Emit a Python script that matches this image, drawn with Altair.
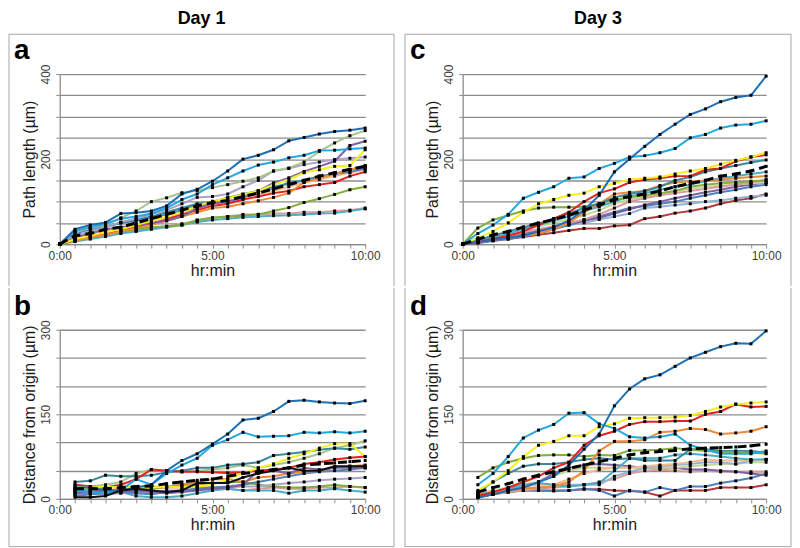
import altair as alt
import pandas as pd

# ---------------- data ----------------
hours_full = [0, 0.5, 1, 1.5, 2, 2.5, 3, 3.5, 4, 4.5, 5, 5.5, 6, 6.5, 7, 7.5, 8, 8.5, 9, 9.5, 10]
hours_late = [0.5, 1, 1.5, 2, 2.5, 3, 3.5, 4, 4.5, 5, 5.5, 6, 6.5, 7, 7.5, 8, 8.5, 9, 9.5, 10]
x_label_hours = [0, 5, 10]

path_ticks = [0, 50, 100, 150, 200, 250, 300, 350, 400]
path_labels = [0, 200, 400]
dist_ticks = [0, 50, 100, 150, 200, 250, 300]
dist_labels = [0, 150, 300]

day_titles = ["Day 1", "Day 3"]
panel_letters = ["a", "b", "c", "d"]
y_titles = ["Path length (µm)", "Distance from origin (µm)"]
x_title = "hr:min"

# colours
DARKBLUE = "#1f6fb4"
LIGHTBLUE = "#22a9e1"
SAGE = "#a9c48e"
PURPLE = "#7f62a2"
LAVENDER = "#aba3cc"
YELLOW = "#f5f01e"
RED = "#e3211f"
ORANGE = "#ef8a36"
OLIVE = "#85ad3c"
SALMON = "#dc9a98"
LTEAL = "#4bacc6"
TEAL = "#3a8a9c"
BLUE = "#4f81bd"
LORANGE = "#f7b987"
BLUEGRAY = "#95b3d7"
MAROON = "#b53a3a"
GRAYGREEN = "#c3d69b"
BLACK = "#111111"

# Panel a : Day 1 path length (0:00 .. 10:00)
a_darkblue = [0, 35, 45, 51, 72, 74, 78, 90, 118, 129, 148, 172, 200, 209, 222, 243, 251, 259, 265, 268, 273]
a_lightblue = [0, 30, 40, 48, 60, 65, 72, 85, 105, 118, 140, 156, 172, 186, 193, 203, 209, 220, 221, 224, 226]
a_sage = [0, 28, 38, 45, 62, 78, 100, 109, 121, 126, 133, 140, 148, 156, 172, 179, 193, 218, 238, 255, 267]
a_purple = [0, 15, 25, 35, 40, 45, 50, 55, 65, 85, 95, 100, 109, 125, 144, 156, 171, 183, 195, 232, 242]
a_lavender = [0, 20, 30, 40, 52, 60, 70, 80, 95, 110, 112, 118, 135, 150, 172, 178, 187, 193, 199, 202, 205]
a_yellow = [0, 12, 20, 28, 35, 45, 55, 65, 75, 90, 101, 108, 117, 125, 140, 152, 168, 175, 183, 185, 222]
a_orange = [0, 8, 15, 22, 30, 38, 45, 55, 65, 75, 85, 88, 95, 102, 110, 120, 145, 155, 165, 175, 185]
a_red = [0, 10, 18, 25, 32, 40, 48, 58, 70, 80, 90, 95, 105, 112, 120, 125, 135, 140, 145, 160, 170]
a_olive = [0, 10, 18, 25, 30, 35, 40, 42, 45, 57, 62, 65, 67, 70, 78, 86, 98, 107, 117, 128, 135]
a_salmon = [0, 8, 15, 22, 28, 32, 38, 42, 48, 55, 62, 65, 70, 70, 72, 72, 75, 75, 78, 80, 85]
a_lteal = [0, 6, 12, 18, 25, 30, 35, 40, 45, 52, 57, 60, 63, 65, 67, 68, 70, 72, 73, 78, 83]
a_teal = [0, 30, 38, 42, 50, 58, 65, 75, 85, 95, 100, 108, 118, 125, 135, 142, 150, 158, 165, 175, 183]
a_blue = [0, 25, 35, 40, 50, 55, 62, 70, 80, 92, 98, 110, 115, 125, 130, 145, 150, 160, 165, 170, 178]
a_lorange = [0, 15, 22, 30, 38, 45, 55, 62, 75, 85, 95, 102, 110, 118, 125, 135, 145, 152, 160, 168, 175]
a_mean = [0, 20, 25, 35, 40, 50, 60, 70, 80, 90, 98, 103, 112, 120, 130, 140, 150, 160, 168, 176, 183]

# Panel c : Day 3 path length (0:00 .. 10:00)
c_darkblue = [0, 5, 10, 15, 20, 30, 40, 55, 80, 115, 170, 200, 230, 258, 282, 305, 318, 335, 345, 350, 395]
c_lightblue = [0, 25, 45, 70, 108, 122, 135, 155, 158, 178, 190, 205, 208, 215, 225, 250, 258, 273, 280, 282, 290]
c_yellow = [0, 15, 30, 50, 75, 95, 105, 115, 120, 135, 143, 152, 155, 158, 165, 172, 178, 188, 197, 205, 215]
c_red = [0, 5, 12, 20, 30, 45, 60, 75, 100, 120, 130, 145, 152, 155, 160, 160, 175, 178, 195, 205, 210]
c_olive = [0, 38, 57, 68, 78, 85, 87, 87, 88, 95, 105, 110, 115, 120, 125, 135, 140, 143, 145, 148, 150]
c_teal = [0, 10, 20, 30, 40, 48, 60, 72, 85, 95, 110, 118, 125, 135, 150, 158, 170, 178, 185, 192, 198]
c_orange = [0, 5, 10, 15, 20, 25, 35, 50, 75, 95, 118, 122, 125, 138, 145, 148, 150, 152, 155, 158, 160]
c_blue = [0, 3, 8, 12, 18, 25, 35, 45, 55, 65, 75, 85, 90, 95, 100, 108, 115, 122, 128, 135, 140]
c_bluegray = [0, 5, 10, 15, 22, 30, 38, 45, 50, 58, 65, 72, 85, 88, 92, 95, 100, 103, 108, 112, 115]
c_maroon = [0, 3, 8, 12, 17, 22, 27, 32, 37, 37, 43, 45, 60, 65, 73, 78, 85, 95, 103, 108, 118]
c_graygreen = [0, 10, 18, 28, 35, 42, 50, 58, 68, 80, 95, 105, 112, 118, 125, 130, 135, 138, 140, 143, 145]
c_lteal = [0, 8, 15, 25, 35, 45, 55, 65, 78, 88, 100, 112, 120, 128, 135, 140, 148, 155, 160, 165, 170]
c_salmon = [0, 5, 12, 20, 28, 35, 42, 50, 58, 70, 85, 100, 108, 115, 120, 125, 130, 135, 140, 145, 152]
c_purple = [0, 4, 10, 16, 25, 32, 40, 48, 55, 62, 72, 82, 92, 100, 108, 115, 122, 128, 135, 140, 145]
c_mean = [0, 12, 22, 30, 40, 50, 58, 68, 80, 92, 105, 112, 118, 125, 135, 143, 150, 160, 165, 172, 183]

# Panel b : Day 1 distance from origin (0:30 .. 10:00)
b_darkblue = [20, 20, 15, 15, 20, 25, 50, 68, 80, 97, 115, 140, 143, 155, 173, 175, 172, 170, 169, 174]
b_lightblue = [15, 12, 10, 15, 35, 25, 45, 60, 72, 95, 105, 118, 110, 111, 112, 118, 117, 119, 117, 120]
b_teal = [30, 32, 42, 40, 40, 42, 47, 50, 55, 55, 60, 62, 65, 77, 80, 83, 87, 90, 88, 92]
b_sage = [25, 22, 25, 30, 45, 52, 50, 48, 50, 52, 55, 60, 55, 60, 65, 72, 80, 90, 95, 103]
b_yellow = [20, 20, 22, 20, 22, 20, 22, 20, 22, 25, 35, 45, 55, 62, 72, 80, 90, 98, 98, 75]
b_red = [25, 22, 20, 25, 35, 52, 50, 48, 48, 47, 46, 47, 50, 52, 55, 62, 65, 70, 73, 75]
b_black = [3, 3, 5, 15, 18, 15, 12, 15, 28, 28, 28, 38, 45, 50, 55, 50, 50, 58, 58, 58]
b_purple = [10, 12, 15, 12, 15, 12, 10, 12, 15, 18, 20, 25, 50, 50, 45, 55, 52, 55, 55, 55]
b_lavender = [8, 10, 8, 10, 12, 12, 15, 15, 18, 20, 20, 22, 22, 25, 28, 30, 33, 35, 36, 38]
b_lteal = [12, 15, 10, 12, 5, 3, 3, 5, 10, 15, 18, 15, 15, 15, 10, 15, 15, 18, 15, 12]
b_olive = [15, 18, 20, 22, 20, 18, 22, 25, 25, 28, 30, 30, 25, 22, 20, 20, 22, 25, 22, 20]
b_salmon = [18, 15, 12, 15, 15, 18, 20, 20, 22, 20, 18, 15, 18, 20, 18, 18, 20, 20, 22, 20]
b_orange = [10, 12, 15, 18, 20, 22, 20, 25, 30, 35, 35, 30, 38, 40, 45, 48, 50, 55, 58, 60]
b_blue = [5, 8, 10, 12, 10, 8, 12, 15, 18, 20, 22, 25, 30, 35, 40, 45, 48, 50, 52, 55]
b_mean = [18, 18, 18, 20, 22, 23, 27, 30, 33, 35, 40, 45, 48, 52, 55, 60, 62, 64, 66, 68]

# Panel d : Day 3 distance from origin (0:30 .. 10:00)
d_darkblue = [3, 8, 15, 20, 30, 40, 60, 88, 115, 165, 195, 213, 220, 235, 250, 260, 270, 276, 275, 298]
d_lightblue = [25, 45, 75, 108, 122, 132, 152, 153, 133, 125, 110, 108, 110, 115, 95, 88, 80, 80, 80, 85]
d_yellow = [15, 30, 50, 75, 95, 102, 112, 112, 128, 133, 143, 144, 144, 145, 148, 155, 163, 168, 170, 172]
d_red = [5, 12, 20, 30, 40, 55, 65, 95, 112, 120, 132, 137, 137, 138, 138, 150, 155, 168, 163, 164]
d_orange = [5, 10, 15, 18, 20, 22, 30, 50, 85, 102, 102, 105, 118, 120, 125, 123, 115, 117, 120, 128]
d_olive = [38, 55, 65, 72, 77, 78, 78, 75, 78, 77, 86, 86, 87, 90, 87, 85, 83, 83, 82, 80]
d_teal = [12, 30, 45, 58, 62, 62, 65, 70, 72, 70, 72, 68, 68, 68, 88, 88, 85, 85, 85, 82]
d_purple = [3, 8, 15, 20, 30, 45, 55, 60, 62, 60, 58, 55, 55, 55, 52, 52, 50, 48, 45, 42]
d_blue = [5, 10, 12, 15, 15, 15, 15, 18, 15, 5, 15, 12, 20, 15, 22, 22, 28, 32, 37, 45]
d_maroon = [2, 8, 12, 15, 15, 14, 15, 17, 17, 15, 14, 12, 5, 15, 15, 15, 20, 20, 20, 25]
d_lorange = [8, 12, 18, 22, 25, 25, 35, 45, 52, 55, 55, 58, 60, 62, 65, 70, 68, 68, 68, 70]
d_graygreen = [10, 15, 20, 25, 30, 40, 50, 55, 55, 55, 55, 55, 55, 55, 58, 60, 62, 62, 65, 65]
d_bluegray = [6, 10, 15, 18, 20, 22, 25, 25, 25, 40, 48, 55, 58, 60, 62, 65, 65, 62, 68, 70]
d_salmon = [4, 8, 12, 15, 18, 20, 22, 25, 30, 35, 45, 50, 52, 50, 48, 50, 48, 48, 48, 48]
d_lteal = [8, 12, 18, 25, 28, 25, 22, 25, 28, 50, 72, 72, 72, 78, 80, 78, 75, 72, 70, 70]
d_mean = [12, 20, 27, 35, 42, 48, 54, 60, 66, 72, 78, 82, 84, 86, 89, 90, 91, 92, 94, 97]

panel_a_series = [
    ("salmon", SALMON, a_salmon), ("lteal", LTEAL, a_lteal), ("olive", OLIVE, a_olive),
    ("lorange", LORANGE, a_lorange), ("blue", BLUE, a_blue), ("teal", TEAL, a_teal),
    ("red", RED, a_red), ("orange", ORANGE, a_orange), ("lavender", LAVENDER, a_lavender),
    ("purple", PURPLE, a_purple), ("yellow", YELLOW, a_yellow), ("sage", SAGE, a_sage),
    ("lightblue", LIGHTBLUE, a_lightblue), ("darkblue", DARKBLUE, a_darkblue),
]
panel_c_series = [
    ("maroon", MAROON, c_maroon), ("bluegray", BLUEGRAY, c_bluegray), ("blue", BLUE, c_blue),
    ("purple", PURPLE, c_purple), ("graygreen", GRAYGREEN, c_graygreen), ("salmon", SALMON, c_salmon),
    ("lteal", LTEAL, c_lteal), ("orange", ORANGE, c_orange), ("olive", OLIVE, c_olive),
    ("teal", TEAL, c_teal), ("red", RED, c_red), ("yellow", YELLOW, c_yellow),
    ("lightblue", LIGHTBLUE, c_lightblue), ("darkblue", DARKBLUE, c_darkblue),
]
panel_b_series = [
    ("salmon", SALMON, b_salmon), ("olive", OLIVE, b_olive), ("lteal", LTEAL, b_lteal),
    ("lavender", LAVENDER, b_lavender), ("blue", BLUE, b_blue), ("orange", ORANGE, b_orange),
    ("purple", PURPLE, b_purple), ("sage", SAGE, b_sage), ("teal", TEAL, b_teal),
    ("red", RED, b_red), ("yellow", YELLOW, b_yellow), ("lightblue", LIGHTBLUE, b_lightblue),
    ("darkblue", DARKBLUE, b_darkblue), ("black", BLACK, b_black),
]
panel_d_series = [
    ("maroon", MAROON, d_maroon), ("blue", BLUE, d_blue), ("salmon", SALMON, d_salmon),
    ("purple", PURPLE, d_purple), ("graygreen", GRAYGREEN, d_graygreen), ("bluegray", BLUEGRAY, d_bluegray),
    ("lorange", LORANGE, d_lorange), ("lteal", LTEAL, d_lteal), ("teal", TEAL, d_teal),
    ("olive", OLIVE, d_olive), ("orange", ORANGE, d_orange), ("red", RED, d_red),
    ("yellow", YELLOW, d_yellow), ("lightblue", LIGHTBLUE, d_lightblue), ("darkblue", DARKBLUE, d_darkblue),
]

# ---------------- style ----------------
FONT = "Liberation Sans"
GRID = "#8c8c8c"
BOX = "#a6a6a6"


def long_df(times, series):
    rows = []
    for k, (name, color, vals) in enumerate(series):
        for t, v in zip(times, vals):
            rows.append({"t": t, "v": v, "series": name, "color": color, "k": k})
    return pd.DataFrame(rows)


def one(**kw):
    return pd.DataFrame([kw])


def panel(series, mean, times, ymax, yticks, ylabels, ytitle, letter, width, height,
          bl, br, part, day=None):
    df = long_df(times, series)
    mdf = pd.DataFrame({"t": times, "v": mean})
    xlab = "[" + ",".join(str(h) for h in x_label_hours) + "]"
    ylab = "[" + ",".join(str(h) for h in ylabels) + "]"
    X = alt.X("t:Q", scale=alt.Scale(domain=[0, 10], nice=False, zero=False),
              axis=alt.Axis(values=hours_full, title=x_title, grid=False,
                            labelExpr=f"indexof({xlab}, datum.value) >= 0 ? format(datum.value, 'd') + ':00' : ''",
                            labelOverlap=False, labelFlush=False, tickSize=4, labelPadding=2,
                            titlePadding=1))
    Y = alt.Y("v:Q", scale=alt.Scale(domain=[0, ymax], nice=False),
              axis=alt.Axis(values=yticks, title=ytitle, grid=True,
                            labelExpr=f"indexof({ylab}, datum.value) >= 0 ? datum.label : ''",
                            labelOverlap=False, labelFlush=False, labelAngle=270,
                            labelAlign="center", labelBaseline="bottom", tickSize=4,
                            labelPadding=3, titlePadding=2))
    lines = alt.Chart(df).mark_line(strokeWidth=2, strokeJoin="round").encode(
        x=X, y=Y, color=alt.Color("color:N", scale=None), detail="series:N", order="t:Q")
    mline = alt.Chart(mdf).mark_line(color="black", strokeWidth=3, strokeDash=[9, 5]).encode(x=X, y=Y)
    dots_df = pd.concat([df[["t", "v"]], mdf], ignore_index=True)
    dots = alt.Chart(dots_df).mark_square(size=9, color="black", opacity=1).encode(x=X, y=Y)

    letter_t = alt.Chart(one(s=letter)).mark_text(
        font=FONT, fontSize=28, fontWeight="bold", align="left", baseline="alphabetic", color="black"
    ).encode(text="s:N", x=alt.value(bl + 5), y=alt.value(-15))

    layers = [lines, mline, dots, letter_t]
    if part == "top":
        top_y, bot_y = -40, 213
        layers.append(alt.Chart(one(k=1)).mark_rule(color=BOX, strokeWidth=1).encode(
            x=alt.value(bl), x2=alt.value(br), y=alt.value(top_y)))
        for xx in (bl, br):
            layers.append(alt.Chart(one(k=1)).mark_rule(color=BOX, strokeWidth=1).encode(
                x=alt.value(xx), y=alt.value(top_y), y2=alt.value(bot_y)))
        layers.append(alt.Chart(one(s=day)).mark_text(
            font=FONT, fontSize=18, fontWeight="bold", align="center", baseline="middle", color="black"
        ).encode(text="s:N", x=alt.value((bl + br) / 2), y=alt.value(-55)))
    else:
        top_y, bot_y = -42, 218
        layers.append(alt.Chart(one(k=1)).mark_rule(color=BOX, strokeWidth=1).encode(
            x=alt.value(bl), x2=alt.value(br), y=alt.value(bot_y)))
        for xx in (bl, br):
            layers.append(alt.Chart(one(k=1)).mark_rule(color=BOX, strokeWidth=1).encode(
                x=alt.value(xx), y=alt.value(top_y), y2=alt.value(bot_y)))
    return alt.layer(*layers).properties(width=width, height=height)


pa = panel(panel_a_series, a_mean, hours_full, 400, path_ticks, path_labels, y_titles[0],
           panel_letters[0], 307, 171, -51, 336, "top", day_titles[0])
pb = panel(panel_b_series, b_mean, hours_late, 300, dist_ticks, dist_labels, y_titles[1],
           panel_letters[1], 307, 170, -51, 336, "bottom")
pc = panel(panel_c_series, c_mean, hours_full, 400, path_ticks, path_labels, y_titles[0],
           panel_letters[2], 305, 171, -58, 330, "top", day_titles[1])
pd_ = panel(panel_d_series, d_mean, hours_late, 300, dist_ticks, dist_labels, y_titles[1],
            panel_letters[3], 305, 170, -58, 330, "bottom")

left = alt.vconcat(pa, pb, spacing=0)
right = alt.vconcat(pc, pd_, spacing=0)
chart = alt.hconcat(left, right, spacing=9).properties(padding=0).configure_view(
    stroke="transparent"
).configure_axis(
    labelFont=FONT, titleFont=FONT, labelFontSize=12, titleFontSize=16,
    labelColor="#404040", titleColor="#1a1a1a", titleFontWeight="normal",
    gridColor=GRID, gridWidth=1.3, domainColor=GRID, domainWidth=1.3,
    tickColor=GRID, tickWidth=1,
)

chart.save("out.html", embed_options={"renderer": "svg", "actions": False})
